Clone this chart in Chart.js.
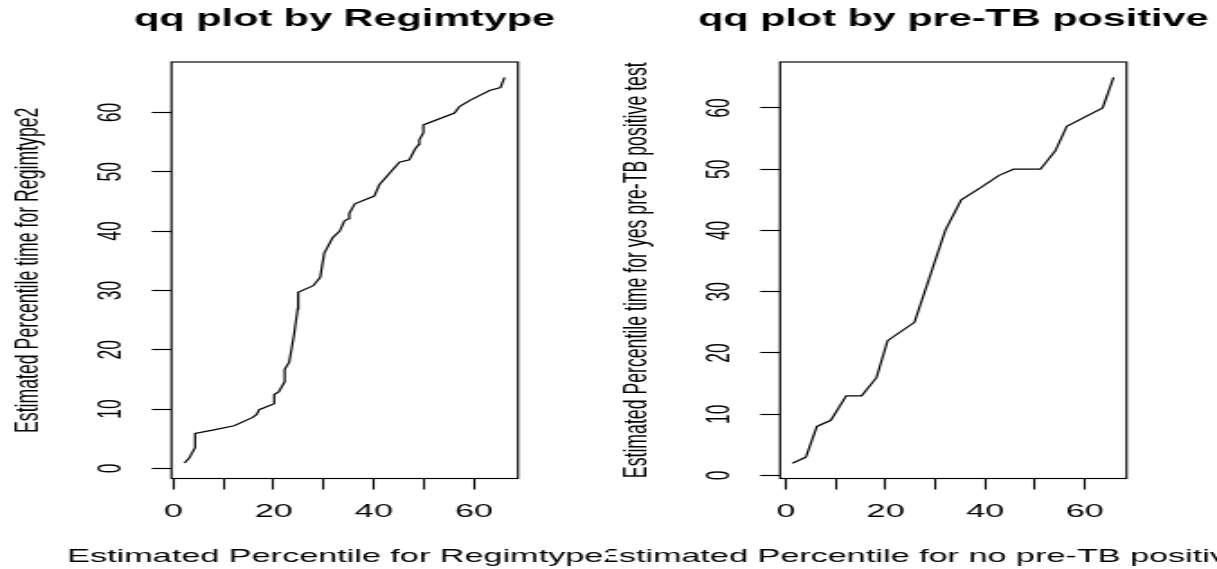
<!DOCTYPE html>
<html>
<head>
<meta charset="utf-8">
<script src="https://cdn.jsdelivr.net/npm/chart.js@4/dist/chart.umd.min.js"></script>
<style>
  html, body { margin: 0; padding: 0; background: #fff; width: 1217px; height: 569px; overflow: hidden; }
  canvas { position: absolute; left: 0; top: 0; width: 1217px !important; height: 569px !important; }
</style>
</head>
<body>
<canvas id="regim" width="676" height="569" style="width:1217px;height:569px"></canvas>
<canvas id="pretb" width="676" height="569" style="width:1217px;height:569px"></canvas>
<script>
// Quantile pairs: Regimtype (x) vs Regimtype2 (y)
const regimX = [2.2, 3.1, 4.3, 4.3, 7.8, 12.1, 15.8, 16.6, 17.1, 20.1, 20.1, 21.0, 22.2, 22.2, 23.1, 24.1, 24.8, 24.9, 27.9, 29.3, 30.1, 31.8, 33.2, 34.1, 35.0, 35.1, 36.2, 40.1, 41.1, 45.1, 47.1, 48.2, 49.0, 49.1, 49.9, 49.9, 56.1, 57.1, 59.1, 63.1, 65.3, 66.1];
const regimY = [0.9, 1.7, 3.5, 5.9, 6.45, 7.2, 8.6, 9.1, 9.9, 10.9, 12.45, 12.9, 14.6, 16.7, 17.9, 22.7, 26.9, 29.7, 30.8, 32.2, 36.3, 38.9, 40.0, 41.7, 42.1, 43.0, 44.6, 45.9, 47.8, 51.6, 52.0, 53.8, 54.6, 55.4, 56.6, 57.9, 59.9, 61.0, 62.0, 63.7, 64.2, 65.9];

// Quantile pairs: no pre-TB positive test (x) vs yes pre-TB positive test (y)
const tbNoX  = [1.3, 4.0, 6.2, 9.0, 12.1, 15.2, 18.2, 20.4, 25.8, 28.7, 32.0, 35.2, 39.1, 42.8, 45.7, 51.1, 54.1, 56.4, 63.6, 65.8];
const tbYesY = [2, 3, 8, 9, 13, 13, 16, 22, 25, 32, 40, 45, 47, 49, 50, 50, 53, 57, 60, 65];

// Axis limits (data range padded by 4%)
const regimXRange = [-0.4, 68.8];
const regimYRange = [-1.7, 68.5];
const tbXRange = [-1.2, 68.4];
const tbYRange = [-0.5, 67.5];

// Ticks
const xTickValues = [0, 10, 20, 30, 40, 50, 60];
const xTickLabels = ['0', '', '20', '', '40', '', '60'];
const yTickValues = [0, 10, 20, 30, 40, 50, 60];
const yTickLabels = ['0', '10', '20', '30', '40', '50', '60'];

// Text
const panelTitles = ['qq plot by Regimtype', 'qq plot by pre-TB positive'];
const xAxisTitles = ['Estimated Percentile for Regimtype2', 'Estimated Percentile for no pre-TB positive test'];
const yAxisTitles = ['Estimated Percentile time for Regimtype2', 'Estimated Percentile time for yes pre-TB positive test'];

// Layout (canvas units; the canvas is stretched horizontally to the page width)
const CANVAS_W = 676, CANVAS_H = 569;
const FONT = '"Liberation Sans", Arial, Helvetica, sans-serif';
const PLOT_TOP = 62, PLOT_BOTTOM = 478.5;
const Y_SCALE_W = 50, X_SCALE_H = 40;
const FIG_SPLIT = 338;            // border between the two figure regions
const TICK_LEN = 11;
const LINE_W = 1.15;

const framePlugin = {
  id: 'plotFrame',
  afterDatasetsDraw(chart) {
    const { ctx, chartArea: a } = chart;
    ctx.save();
    ctx.strokeStyle = '#000';
    ctx.lineWidth = LINE_W;
    ctx.strokeRect(a.left, a.top, a.right - a.left, a.bottom - a.top);
    ctx.restore();
  }
};

function annotations(idx, clipLeft, clipRight) {
  return {
    id: 'annotations' + idx,
    afterDraw(chart) {
      const { ctx, chartArea: a } = chart;
      const cx = (a.left + a.right) / 2;
      const cy = (a.top + a.bottom) / 2;
      ctx.save();
      ctx.beginPath();
      ctx.rect(clipLeft, 0, clipRight - clipLeft, CANVAS_H);
      ctx.clip();
      ctx.fillStyle = '#000';
      ctx.textAlign = 'center';
      ctx.textBaseline = 'alphabetic';
      ctx.font = 'bold 23px ' + FONT;
      ctx.fillText(panelTitles[idx], cx, 26);
      ctx.font = '19px ' + FONT;
      ctx.fillText(xAxisTitles[idx], cx, 561.5);
      ctx.translate(a.left - 74, cy);
      ctx.rotate(-Math.PI / 2);
      ctx.font = '17.7px ' + FONT;
      ctx.fillText(yAxisTitles[idx], 0, 0);
      ctx.restore();
    }
  };
}

function makePanel(canvasId, idx, xs, ys, xRange, yRange, boxLeft, boxRight, clipLeft, clipRight) {
  const points = xs.map((x, i) => ({ x: x, y: ys[i] }));
  return new Chart(document.getElementById(canvasId), {
    type: 'line',
    data: {
      datasets: [{
        data: points,
        borderColor: '#000',
        borderWidth: 1.2,
        pointRadius: 0,
        tension: 0,
        fill: false
      }]
    },
    options: {
      responsive: false,
      animation: false,
      devicePixelRatio: 1,
      events: [],
      layout: {
        padding: {
          left: boxLeft - Y_SCALE_W,
          right: CANVAS_W - boxRight,
          top: PLOT_TOP,
          bottom: CANVAS_H - PLOT_BOTTOM - X_SCALE_H
        }
      },
      plugins: {
        legend: { display: false },
        tooltip: { enabled: false },
        title: { display: false }
      },
      scales: {
        x: {
          type: 'linear',
          position: 'bottom',
          min: xRange[0],
          max: xRange[1],
          afterFit: (s) => { s.height = X_SCALE_H; },
          afterBuildTicks: (s) => { s.ticks = xTickValues.map(v => ({ value: v })); },
          ticks: {
            autoSkip: false,
            minRotation: 0,
            maxRotation: 0,
            padding: 11,
            color: '#000',
            font: { family: FONT, size: 19 },
            callback: (v, i) => xTickLabels[i]
          },
          grid: {
            drawOnChartArea: false,
            drawTicks: true,
            tickLength: TICK_LEN,
            tickWidth: LINE_W,
            tickColor: '#000'
          },
          border: { display: false }
        },
        y: {
          type: 'linear',
          position: 'left',
          min: yRange[0],
          max: yRange[1],
          afterFit: (s) => { s.width = Y_SCALE_W; },
          afterBuildTicks: (s) => { s.ticks = yTickValues.map(v => ({ value: v })); },
          ticks: {
            autoSkip: false,
            minRotation: 90,
            maxRotation: 90,
            crossAlign: 'center',
            padding: 12.5,
            color: '#000',
            font: { family: FONT, size: 17.5 },
            callback: (v, i) => yTickLabels[i]
          },
          grid: {
            drawOnChartArea: false,
            drawTicks: true,
            tickLength: TICK_LEN,
            tickWidth: LINE_W,
            tickColor: '#000'
          },
          border: { display: false }
        }
      }
    },
    plugins: [framePlugin, annotations(idx, clipLeft, clipRight)]
  });
}

makePanel('regim', 0, regimX, regimY, regimXRange, regimYRange, 95.26, 287.73, 0, FIG_SPLIT);
makePanel('pretb', 1, tbNoX, tbYesY, tbXRange, tbYRange, 433.26, 625.73, FIG_SPLIT, CANVAS_W);
</script>
</body>
</html>
